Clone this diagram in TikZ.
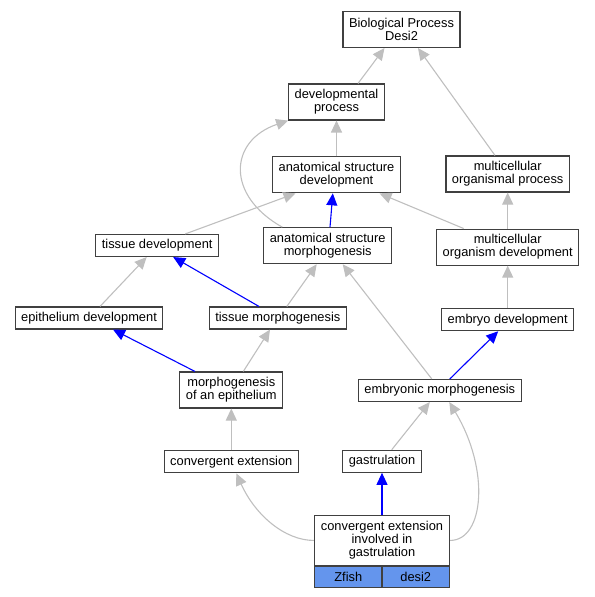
\documentclass[tikz,border=0pt]{standalone}
\usepackage{fontspec}
\setmainfont{Liberation Sans}
\usepackage{xcolor}
\usepackage{tikz}
\usetikzlibrary{arrows.meta, positioning}
\definecolor{zfishblue}{HTML}{6495ED}
\newcommand{\termfont}{\fontsize{12.9}{13}\selectfont}

\begin{document}
\begin{tikzpicture}[
    x=1bp, y=-1bp,
    term/.style={rectangle, draw=black!75, line width=1.1bp, fill=white, align=center, font=\termfont, inner xsep=6bp, inner ysep=2bp, minimum height=22bp},
    twoline/.style={term, minimum height=36bp},
    cell/.style={term, fill=zfishblue, minimum width=67.5bp, minimum height=21.7bp, inner ysep=0pt},
    edge/.style={-{Triangle[length=12bp, width=11bp]}, draw=gray!50, line width=1.1bp},
    blueedge/.style={edge, draw=blue}
]
    \useasboundingbox (0,0) rectangle (595,597);

    \node[twoline] (bp) at (401.5,29.5) {Biological Process\\Desi2};
    \node[twoline] (dev) at (336.5,102) {developmental\\process};
    \node[twoline, below=35.7bp of dev] (asd) {anatomical structure\\development};
    \node[twoline] (mop) at (507.7,174) {multicellular\\organismal process};
    \node[twoline, below=36bp of mop] (mod) {multicellular\\organism development};
    \node[twoline] (asm) at (327.7,245.7) {anatomical structure\\morphogenesis};
    \node[term] (td) at (157.2,245.5) {tissue development};
    \node[term] (ed) at (89,318) {epithelium development};
    \node[term] (tm) at (277.8,318) {tissue morphogenesis};
    \node[term, below=42.5bp of mod] (emd) {embryo development};
    \node[twoline] (moe) at (231.3,390) {morphogenesis\\of an epithelium};
    \node[term] (em) at (439.8,390.5) {embryonic morphogenesis};
    \node[term, below=41.7bp of moe] (ce) {convergent extension};
    \node[term] (gas) at (382,461.3) {gastrulation};
    \node[term, minimum width=135bp, minimum height=49.3bp, below=42.4bp of gas] (ceig) {convergent extension\\involved in\\gastrulation};
    \node[cell, anchor=north west] (zfish) at (ceig.south west) {Zfish};
    \node[cell, anchor=north east] (desi) at (ceig.south east) {desi2};

    \draw[edge] ([xshift=21.5bp]dev.north) -- ([xshift=-17bp]bp.south);
    \draw[edge] ([xshift=-12.7bp]mop.north) -- ([xshift=16.5bp]bp.south);
    \draw[edge] (asd) -- (dev);
    \draw[edge] (mod) -- (mop);
    \draw[edge] ([xshift=-44bp]mod.north) -- ([xshift=43bp]asd.south);
    \draw[edge] ([xshift=28bp]td.north) -- ([xshift=-41bp]asd.south);
    \draw[blueedge] ([xshift=2.3bp]asm.north) -- ([xshift=-3.7bp]asd.south);
    \draw[edge] ([xshift=19bp]asm.north west) .. controls +(-57,-32) and +(-59,20) .. (dev.south west);
    \draw[edge] ([xshift=11bp]ed.north) -- ([xshift=-10.5bp]td.south);
    \draw[blueedge] ([xshift=-18.8bp]tm.north) -- ([xshift=16bp]td.south);
    \draw[edge] ([xshift=9bp]tm.north) -- ([xshift=-11bp]asm.south);
    \draw[edge] ([xshift=-8bp]em.north) -- ([xshift=15bp]asm.south);
    \draw[edge] (emd) -- (mod);
    \draw[blueedge] ([xshift=-36.3bp]moe.north) -- ([xshift=24bp]ed.south);
    \draw[edge] ([xshift=12bp]moe.north) -- ([xshift=-7.8bp]tm.south);
    \draw[blueedge] ([xshift=10bp]em.north) -- ([xshift=-9.5bp]emd.south);
    \draw[edge] (ce) -- (moe);
    \draw[edge] ([xshift=9.7bp]gas.north) -- ([xshift=-10bp]em.south);
    \draw[blueedge] (ceig) -- (gas);
    \draw[edge] (ceig.west) .. controls +(-29,0) and +(19,42) .. ([xshift=5bp]ce.south);
    \draw[edge] (ceig.east) .. controls +(34,0) and +(41,68) .. ([xshift=9.5bp]em.south);
\end{tikzpicture}
\end{document}
